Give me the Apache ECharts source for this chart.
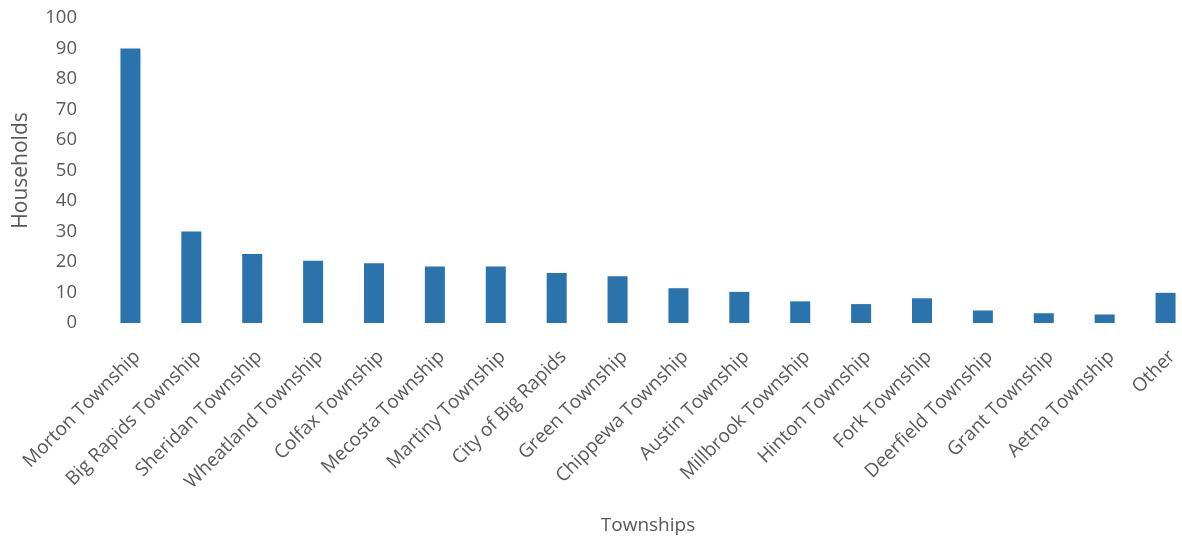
<!DOCTYPE html>
<html>
<head>
<meta charset="utf-8">
<script src="https://cdn.jsdelivr.net/npm/echarts@6/dist/echarts.min.js"></script>
<style>
html,body{margin:0;padding:0;background:#fff;}
#chart{width:1182px;height:543px;}
</style>
</head>
<body>
<div id="chart"></div>
<script>
const categories = ["Morton Township","Big Rapids Township","Sheridan Township","Wheatland Township","Colfax Township","Mecosta Township","Martiny Township","City of Big Rapids","Green Township","Chippewa Township","Austin Township","Millbrook Township","Hinton Township","Fork Township","Deerfield Township","Grant Township","Aetna Township","Other"];
const households = [90, 30, 22.6, 20.4, 19.6, 18.5, 18.5, 16.4, 15.3, 11.4, 10.2, 7.1, 6.2, 8.1, 4.1, 3.2, 2.8, 9.9];
const yTicks = [0, 10, 20, 30, 40, 50, 60, 70, 80, 90, 100];

const font = "'Open Sans', 'Noto Sans', sans-serif";
const chart = echarts.init(document.getElementById('chart'), null, {renderer: 'canvas'});
chart.setOption({
  animation: false,
  grid: {left: 100, width: 1096, top: 18, height: 305, containLabel: false, outerBoundsMode: 'none'},
  xAxis: {
    type: 'category',
    data: categories,
    name: 'Townships',
    nameLocation: 'middle',
    nameGap: 193,
    nameTextStyle: {color: '#595959', fontSize: 19, fontFamily: font},
    axisLine: {show: false},
    axisTick: {show: false},
    axisLabel: {rotate: 45, color: '#595959', fontSize: 19, fontFamily: font, margin: 24, interval: 0, verticalAlign: 'top'}
  },
  yAxis: {
    type: 'value',
    min: yTicks[0],
    max: yTicks[yTicks.length - 1],
    interval: 10,
    name: 'Households',
    nameLocation: 'middle',
    nameGap: 68,
    nameTextStyle: {color: '#595959', fontSize: 21, fontFamily: font},
    axisLine: {show: false},
    axisTick: {show: false},
    splitLine: {show: false},
    axisLabel: {color: '#595959', fontSize: 18.5, fontFamily: font, margin: 23}
  },
  series: [{
    type: 'bar',
    data: households,
    barWidth: 20,
    itemStyle: {color: '#2A73AD'}
  }]
});
</script>
</body>
</html>
